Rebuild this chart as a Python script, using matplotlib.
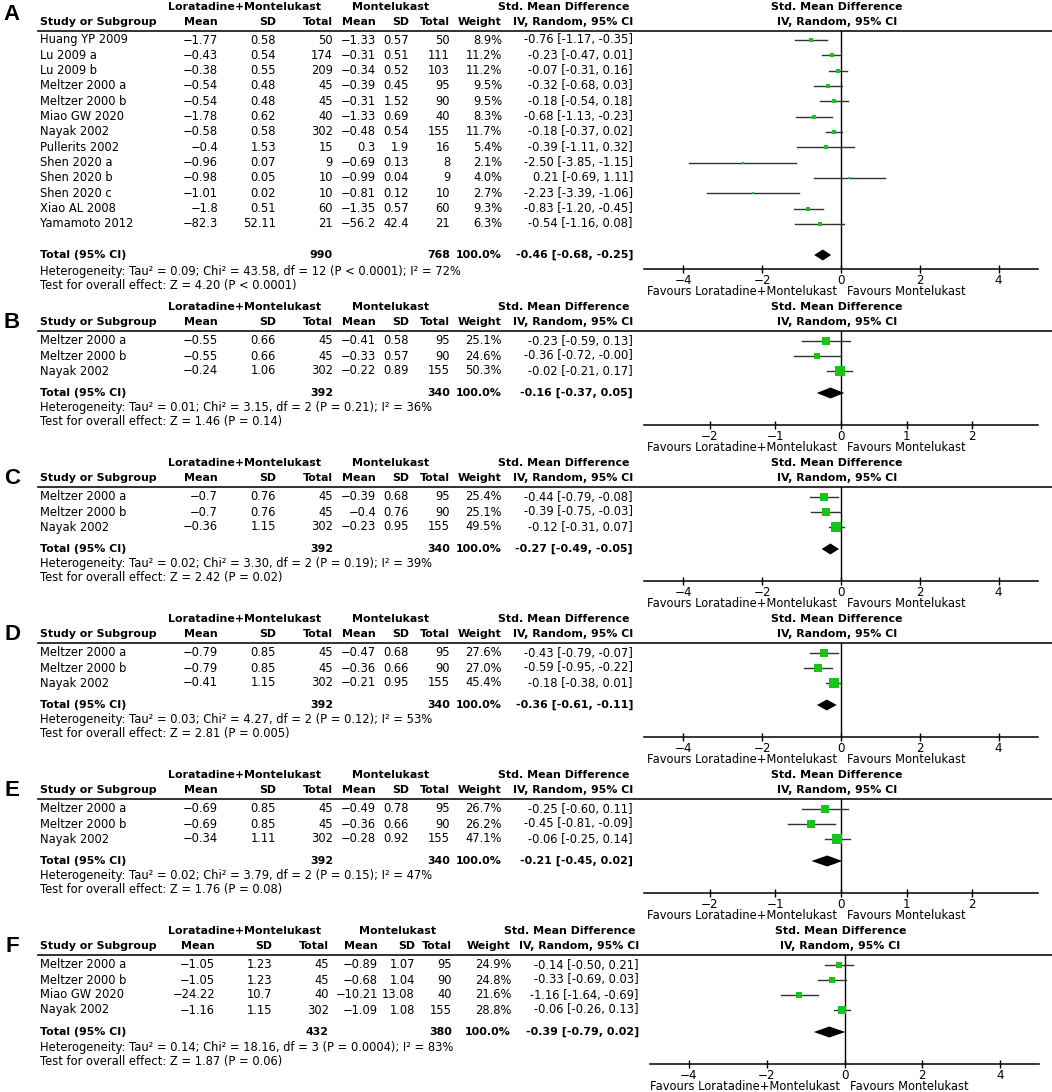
import matplotlib
matplotlib.use("Agg")
import matplotlib.pyplot as plt

plt.rcParams['font.family'] = 'DejaVu Sans'

# ---------------- data ----------------
# panel A
a_study = ["Huang YP 2009", "Lu 2009 a", "Lu 2009 b", "Meltzer 2000 a", "Meltzer 2000 b",
           "Miao GW 2020", "Nayak 2002", "Pullerits 2002", "Shen 2020 a", "Shen 2020 b",
           "Shen 2020 c", "Xiao AL 2008", "Yamamoto 2012"]
a_lm_mean = [-1.77, -0.43, -0.38, -0.54, -0.54, -1.78, -0.58, -0.4, -0.96, -0.98, -1.01, -1.8, -82.3]
a_lm_sd = [0.58, 0.54, 0.55, 0.48, 0.48, 0.62, 0.58, 1.53, 0.07, 0.05, 0.02, 0.51, 52.11]
a_lm_n = [50, 174, 209, 45, 45, 40, 302, 15, 9, 10, 10, 60, 21]
a_m_mean = [-1.33, -0.31, -0.34, -0.39, -0.31, -1.33, -0.48, 0.3, -0.69, -0.99, -0.81, -1.35, -56.2]
a_m_sd = [0.57, 0.51, 0.52, 0.45, 1.52, 0.69, 0.54, 1.9, 0.13, 0.04, 0.12, 0.57, 42.4]
a_m_n = [50, 111, 103, 95, 90, 40, 155, 16, 8, 9, 10, 60, 21]
a_weight = [8.9, 11.2, 11.2, 9.5, 9.5, 8.3, 11.7, 5.4, 2.1, 4.0, 2.7, 9.3, 6.3]
a_smd = [-0.76, -0.23, -0.07, -0.32, -0.18, -0.68, -0.18, -0.39, -2.50, 0.21, -2.23, -0.83, -0.54]
a_lo = [-1.17, -0.47, -0.31, -0.68, -0.54, -1.13, -0.37, -1.11, -3.85, -0.69, -3.39, -1.20, -1.16]
a_hi = [-0.35, 0.01, 0.16, 0.03, 0.18, -0.23, 0.02, 0.32, -1.15, 1.11, -1.06, -0.45, 0.08]
a_total = [990, 768]
a_pooled = [-0.46, -0.68, -0.25]
a_het = "Heterogeneity: Tau² = 0.09; Chi² = 43.58, df = 12 (P < 0.0001); I² = 72%"
a_test = "Test for overall effect: Z = 4.20 (P < 0.0001)"

meltzer_nayak = ["Meltzer 2000 a", "Meltzer 2000 b", "Nayak 2002"]

# panel B
b_study = meltzer_nayak
b_lm_mean = [-0.55, -0.55, -0.24]
b_lm_sd = [0.66, 0.66, 1.06]
b_lm_n = [45, 45, 302]
b_m_mean = [-0.41, -0.33, -0.22]
b_m_sd = [0.58, 0.57, 0.89]
b_m_n = [95, 90, 155]
b_weight = [25.1, 24.6, 50.3]
b_smd = [-0.23, -0.36, -0.02]
b_lo = [-0.59, -0.72, -0.21]
b_hi = [0.13, -0.0, 0.17]
b_total = [392, 340]
b_pooled = [-0.16, -0.37, 0.05]
b_het = "Heterogeneity: Tau² = 0.01; Chi² = 3.15, df = 2 (P = 0.21); I² = 36%"
b_test = "Test for overall effect: Z = 1.46 (P = 0.14)"

# panel C
c_study = meltzer_nayak
c_lm_mean = [-0.7, -0.7, -0.36]
c_lm_sd = [0.76, 0.76, 1.15]
c_lm_n = [45, 45, 302]
c_m_mean = [-0.39, -0.4, -0.23]
c_m_sd = [0.68, 0.76, 0.95]
c_m_n = [95, 90, 155]
c_weight = [25.4, 25.1, 49.5]
c_smd = [-0.44, -0.39, -0.12]
c_lo = [-0.79, -0.75, -0.31]
c_hi = [-0.08, -0.03, 0.07]
c_total = [392, 340]
c_pooled = [-0.27, -0.49, -0.05]
c_het = "Heterogeneity: Tau² = 0.02; Chi² = 3.30, df = 2 (P = 0.19); I² = 39%"
c_test = "Test for overall effect: Z = 2.42 (P = 0.02)"

# panel D
d_study = meltzer_nayak
d_lm_mean = [-0.79, -0.79, -0.41]
d_lm_sd = [0.85, 0.85, 1.15]
d_lm_n = [45, 45, 302]
d_m_mean = [-0.47, -0.36, -0.21]
d_m_sd = [0.68, 0.66, 0.95]
d_m_n = [95, 90, 155]
d_weight = [27.6, 27.0, 45.4]
d_smd = [-0.43, -0.59, -0.18]
d_lo = [-0.79, -0.95, -0.38]
d_hi = [-0.07, -0.22, 0.01]
d_total = [392, 340]
d_pooled = [-0.36, -0.61, -0.11]
d_het = "Heterogeneity: Tau² = 0.03; Chi² = 4.27, df = 2 (P = 0.12); I² = 53%"
d_test = "Test for overall effect: Z = 2.81 (P = 0.005)"

# panel E
e_study = meltzer_nayak
e_lm_mean = [-0.69, -0.69, -0.34]
e_lm_sd = [0.85, 0.85, 1.11]
e_lm_n = [45, 45, 302]
e_m_mean = [-0.49, -0.36, -0.28]
e_m_sd = [0.78, 0.66, 0.92]
e_m_n = [95, 90, 155]
e_weight = [26.7, 26.2, 47.1]
e_smd = [-0.25, -0.45, -0.06]
e_lo = [-0.60, -0.81, -0.25]
e_hi = [0.11, -0.09, 0.14]
e_total = [392, 340]
e_pooled = [-0.21, -0.45, 0.02]
e_het = "Heterogeneity: Tau² = 0.02; Chi² = 3.79, df = 2 (P = 0.15); I² = 47%"
e_test = "Test for overall effect: Z = 1.76 (P = 0.08)"

# panel F
f_study = ["Meltzer 2000 a", "Meltzer 2000 b", "Miao GW 2020", "Nayak 2002"]
f_lm_mean = [-1.05, -1.05, -24.22, -1.16]
f_lm_sd = [1.23, 1.23, 10.7, 1.15]
f_lm_n = [45, 45, 40, 302]
f_m_mean = [-0.89, -0.68, -10.21, -1.09]
f_m_sd = [1.07, 1.04, 13.08, 1.08]
f_m_n = [95, 90, 40, 155]
f_weight = [24.9, 24.8, 21.6, 28.8]
f_smd = [-0.14, -0.33, -1.16, -0.06]
f_lo = [-0.50, -0.69, -1.64, -0.26]
f_hi = [0.21, 0.03, -0.69, 0.13]
f_total = [432, 380]
f_pooled = [-0.39, -0.79, 0.02]
f_het = "Heterogeneity: Tau² = 0.14; Chi² = 18.16, df = 3 (P = 0.0004); I² = 83%"
f_test = "Test for overall effect: Z = 1.87 (P = 0.06)"

ticks_wide = [-4, -2, 0, 2, 4]
ticks_narrow = [-2, -1, 0, 1, 2]

panels = [
    dict(label="A", study=a_study, lm_mean=a_lm_mean, lm_sd=a_lm_sd, lm_n=a_lm_n, m_mean=a_m_mean,
         m_sd=a_m_sd, m_n=a_m_n, weight=a_weight, smd=a_smd, lo=a_lo, hi=a_hi, total=a_total,
         pooled=a_pooled, het=a_het, test=a_test, ticks=ticks_wide, xlim=(-5, 5)),
    dict(label="B", study=b_study, lm_mean=b_lm_mean, lm_sd=b_lm_sd, lm_n=b_lm_n, m_mean=b_m_mean,
         m_sd=b_m_sd, m_n=b_m_n, weight=b_weight, smd=b_smd, lo=b_lo, hi=b_hi, total=b_total,
         pooled=b_pooled, het=b_het, test=b_test, ticks=ticks_narrow, xlim=(-3, 3)),
    dict(label="C", study=c_study, lm_mean=c_lm_mean, lm_sd=c_lm_sd, lm_n=c_lm_n, m_mean=c_m_mean,
         m_sd=c_m_sd, m_n=c_m_n, weight=c_weight, smd=c_smd, lo=c_lo, hi=c_hi, total=c_total,
         pooled=c_pooled, het=c_het, test=c_test, ticks=ticks_wide, xlim=(-5, 5)),
    dict(label="D", study=d_study, lm_mean=d_lm_mean, lm_sd=d_lm_sd, lm_n=d_lm_n, m_mean=d_m_mean,
         m_sd=d_m_sd, m_n=d_m_n, weight=d_weight, smd=d_smd, lo=d_lo, hi=d_hi, total=d_total,
         pooled=d_pooled, het=d_het, test=d_test, ticks=ticks_wide, xlim=(-5, 5)),
    dict(label="E", study=e_study, lm_mean=e_lm_mean, lm_sd=e_lm_sd, lm_n=e_lm_n, m_mean=e_m_mean,
         m_sd=e_m_sd, m_n=e_m_n, weight=e_weight, smd=e_smd, lo=e_lo, hi=e_hi, total=e_total,
         pooled=e_pooled, het=e_het, test=e_test, ticks=ticks_narrow, xlim=(-3, 3)),
    dict(label="F", study=f_study, lm_mean=f_lm_mean, lm_sd=f_lm_sd, lm_n=f_lm_n, m_mean=f_m_mean,
         m_sd=f_m_sd, m_n=f_m_n, weight=f_weight, smd=f_smd, lo=f_lo, hi=f_hi, total=f_total,
         pooled=f_pooled, het=f_het, test=f_test, ticks=ticks_wide, xlim=(-5, 5)),
]

# ---------------- layout (pixels) ----------------
W, H = 1052, 1092
FS = 8.3      # regular text
FSB = 7.9     # bold text (DejaVu bold runs wide)
GREEN = "#17c417"
cols_std = dict(lm_mean=218, lm_sd=276, lm_n=333, m_mean=376, m_sd=409, m_n=450, w=502, smd=633,
                lm_hdr=245, m_hdr=391, fx0=644, fx1=1038)
cols_f = dict(lm_mean=215, lm_sd=272, lm_n=329, m_mean=378, m_sd=415, m_n=452, w=511, smd=639,
              lm_hdr=245, m_hdr=398, fx0=650, fx1=1039)


def num(v):
    return f"{v:g}".replace("-", "\u2212")


def ci(e, lo, hi):
    return f"{e:.2f} [{lo:.2f}, {hi:.2f}]"


fig = plt.figure(figsize=(W / 100, H / 100), dpi=100)
bg = fig.add_axes([0, 0, 1, 1])
bg.set_xlim(0, W)
bg.set_ylim(H, 0)
bg.axis("off")


def t(x, y, s, ha="left", bold=False, size=None, **kw):
    if size is None:
        size = FSB if bold else FS
    bg.text(x, y, s, ha=ha, va="center", fontsize=size,
            fontweight="bold" if bold else "normal", **kw)


for k, p in enumerate(panels):
    c = cols_f if p["label"] == "F" else cols_std
    n = len(p["study"])
    if k == 0:
        top, dy = 7, 15.33
        row0 = top + 33
        total_y = 255
        axis_y = 269
        het_y, test_y = 271, 286
        letter_y = 15
    else:
        top, dy = 307 + 156 * (k - 1), 15
        row0 = top + 34
        total_y = row0 + (n - 1) * dy + 22
        axis_y = total_y + 32
        het_y, test_y = total_y + 15, total_y + 29
        letter_y = top + 16
    hdr_y = top + 15
    rule_y = top + 24

    # panel letter
    t(12, letter_y, p["label"], ha="center", bold=True, size=16, family="Liberation Sans")

    # headers
    t(c["lm_hdr"], top, "Loratadine+Montelukast", ha="center", bold=True)
    t(c["m_hdr"], top, "Montelukast", ha="center", bold=True)
    t(c["smd"] - 4, top, "Std. Mean Difference", ha="right", bold=True)
    t(40, hdr_y, "Study or Subgroup", bold=True)
    t(c["lm_mean"], hdr_y, "Mean", ha="right", bold=True)
    t(c["lm_sd"], hdr_y, "SD", ha="right", bold=True)
    t(c["lm_n"], hdr_y, "Total", ha="right", bold=True)
    t(c["m_mean"], hdr_y, "Mean", ha="right", bold=True)
    t(c["m_sd"], hdr_y, "SD", ha="right", bold=True)
    t(c["m_n"], hdr_y, "Total", ha="right", bold=True)
    t(c["w"], hdr_y, "Weight", ha="right", bold=True)
    t(c["smd"], hdr_y, "IV, Random, 95% CI", ha="right", bold=True)
    fcx = (c["fx0"] + c["fx1"]) / 2 - 4
    t(fcx, top, "Std. Mean Difference", ha="center", bold=True)
    t(fcx, hdr_y, "IV, Random, 95% CI", ha="center", bold=True)
    bg.plot([38, W], [rule_y, rule_y], color="#222222", lw=1.3)

    # study rows
    rows_y = [row0 + i * dy for i in range(n)]
    for i, y in enumerate(rows_y):
        t(40, y, p["study"][i])
        t(c["lm_mean"], y, num(p["lm_mean"][i]), ha="right")
        t(c["lm_sd"], y, num(p["lm_sd"][i]), ha="right")
        t(c["lm_n"], y, str(p["lm_n"][i]), ha="right")
        t(c["m_mean"], y, num(p["m_mean"][i]), ha="right")
        t(c["m_sd"], y, num(p["m_sd"][i]), ha="right")
        t(c["m_n"], y, str(p["m_n"][i]), ha="right")
        t(c["w"], y, f"{p['weight'][i]:.1f}%", ha="right")
        t(c["smd"], y, ci(p["smd"][i], p["lo"][i], p["hi"][i]), ha="right")

    # total rows
    t(40, total_y, "Total (95% CI)", bold=True)
    t(c["lm_n"], total_y, str(p["total"][0]), ha="right", bold=True)
    t(c["m_n"], total_y, str(p["total"][1]), ha="right", bold=True)
    t(c["w"], total_y, "100.0%", ha="right", bold=True)
    t(c["smd"], total_y, ci(*p["pooled"]), ha="right", bold=True)
    t(40, het_y, p["het"])
    t(40, test_y, p["test"])

    # forest plot
    ax = fig.add_axes([c["fx0"] / W, 1 - axis_y / H, (c["fx1"] - c["fx0"]) / W, (axis_y - rule_y) / H])
    ax.patch.set_alpha(0)
    ax.set_xlim(*p["xlim"])
    ax.set_ylim(axis_y, rule_y)
    for s in ("top", "left", "right"):
        ax.spines[s].set_visible(False)
    ax.spines["bottom"].set_linewidth(1.1)
    ax.set_yticks([])
    ax.set_xticks(p["ticks"])
    ax.tick_params(axis="x", direction="inout", length=6, width=1, labelsize=8.6, pad=0.8)
    ax.axvline(0, color="black", lw=1)
    for i, y in enumerate(rows_y):
        ax.plot([p["lo"][i], p["hi"][i]], [y, y], color="#333333", lw=1, clip_on=False)
        side = 1.4 * p["weight"][i] ** 0.5
        ax.plot(p["smd"][i], y, marker="s", ms=side * 0.72, color=GREEN, mew=0, clip_on=False)
    e, lo, hi = p["pooled"]
    ax.fill([lo, e, hi, e], [total_y, total_y - 5.5, total_y, total_y + 5.5], color="black", lw=0)
    ax.annotate("Favours Loratadine+Montelukast", xy=(0, 0), xycoords=("data", "axes fraction"),
                xytext=(-3, -16.5), textcoords="offset points", ha="right", va="center", fontsize=FS)
    ax.annotate("Favours Montelukast", xy=(0, 0), xycoords=("data", "axes fraction"),
                xytext=(4, -16.5), textcoords="offset points", ha="left", va="center", fontsize=FS)

fig.savefig("out.png", dpi=100)
